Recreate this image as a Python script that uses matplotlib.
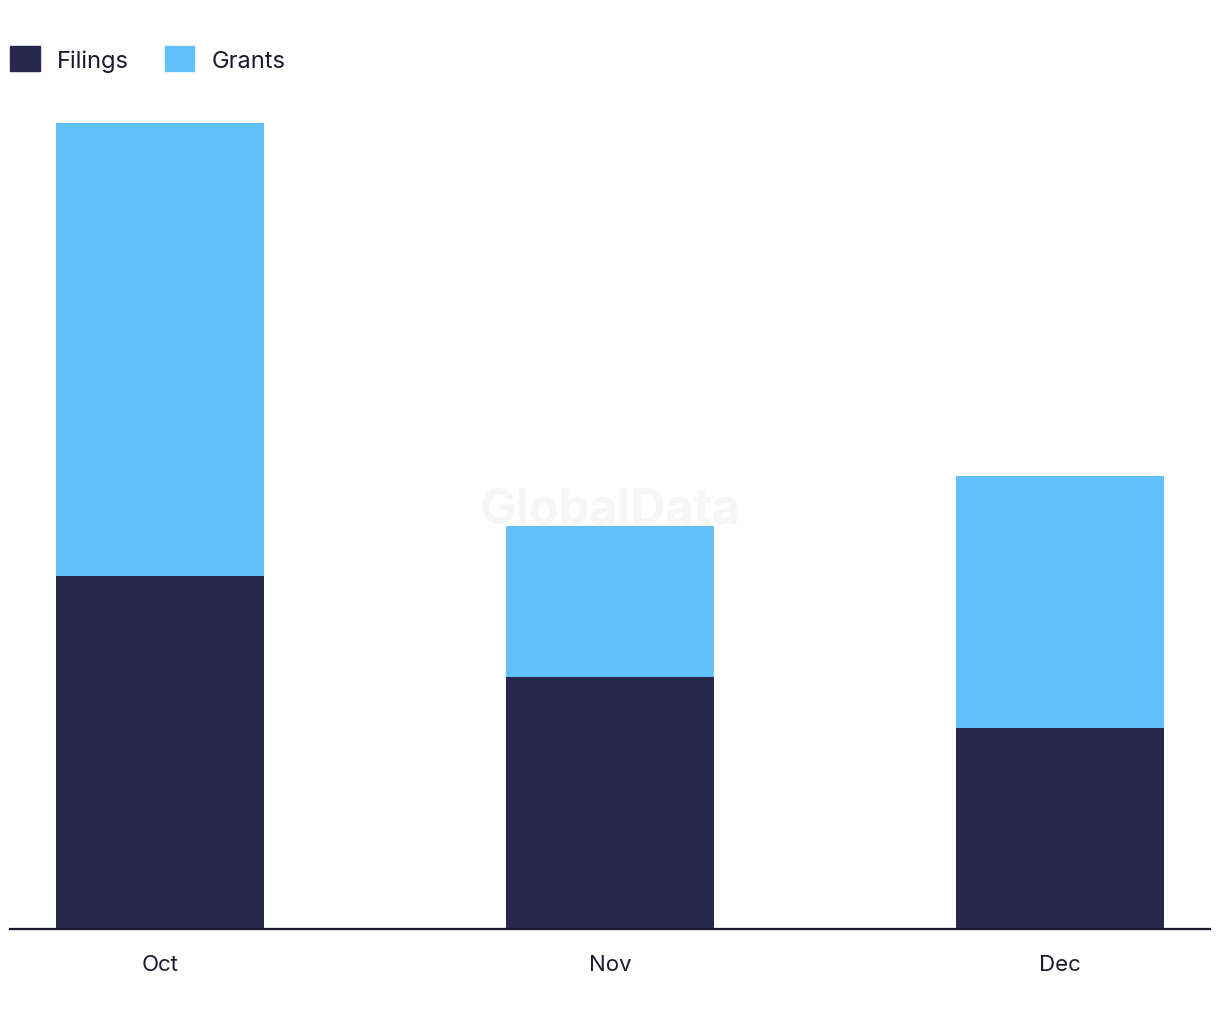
import matplotlib.pyplot as plt
from matplotlib.patches import Patch

months = ['Oct', 'Nov', 'Dec']
filings = [7, 5, 4]
grants = [9, 3, 5]

DARK = '#27284b'
LIGHT = '#63c1f9'

plt.rcParams['font.family'] = ['Inter', 'DejaVu Sans']

fig = plt.figure(figsize=(12.2, 10.2), dpi=100)
ax = fig.add_axes([10 / 1220, 1 - 930 / 1020, 1200 / 1220, 806 / 1020])

x = list(range(len(months)))
ax.bar(x, filings, width=0.462, color=DARK, zorder=2)
ax.bar(x, grants, bottom=filings, width=0.462, color=LIGHT, zorder=2)

ax.set_xlim(-1 / 3, 2 + 1 / 3)
ax.set_ylim(0, 16)
ax.set_xticks(x)
ax.set_xticklabels(months, fontsize=16, color='#1a1a2e')
ax.tick_params(axis='x', length=0, pad=18)
ax.set_yticks([])
for side in ['top', 'right', 'left']:
    ax.spines[side].set_visible(False)
ax.spines['bottom'].set_color('#1a1a2e')
ax.spines['bottom'].set_linewidth(1.6)

# faint watermark behind the bars
fig.text(0.5, 1 - 510 / 1020, 'GlobalData', ha='center', va='center',
         fontsize=35, fontweight='bold', color='#f6f6f6', zorder=0)

handles = [Patch(color=DARK, label='Filings'), Patch(color=LIGHT, label='Grants')]
fig.legend(handles=handles, loc='upper left', bbox_to_anchor=(3 / 1220, 1 - 40 / 1020),
           ncol=2, frameon=False, fontsize=17, handlelength=1.25, handleheight=1.25,
           handletextpad=0.75, columnspacing=1.5, labelcolor='#1a1a2e',
           borderaxespad=0.0, borderpad=0.3)

fig.savefig('out.png', dpi=100, facecolor='white')
